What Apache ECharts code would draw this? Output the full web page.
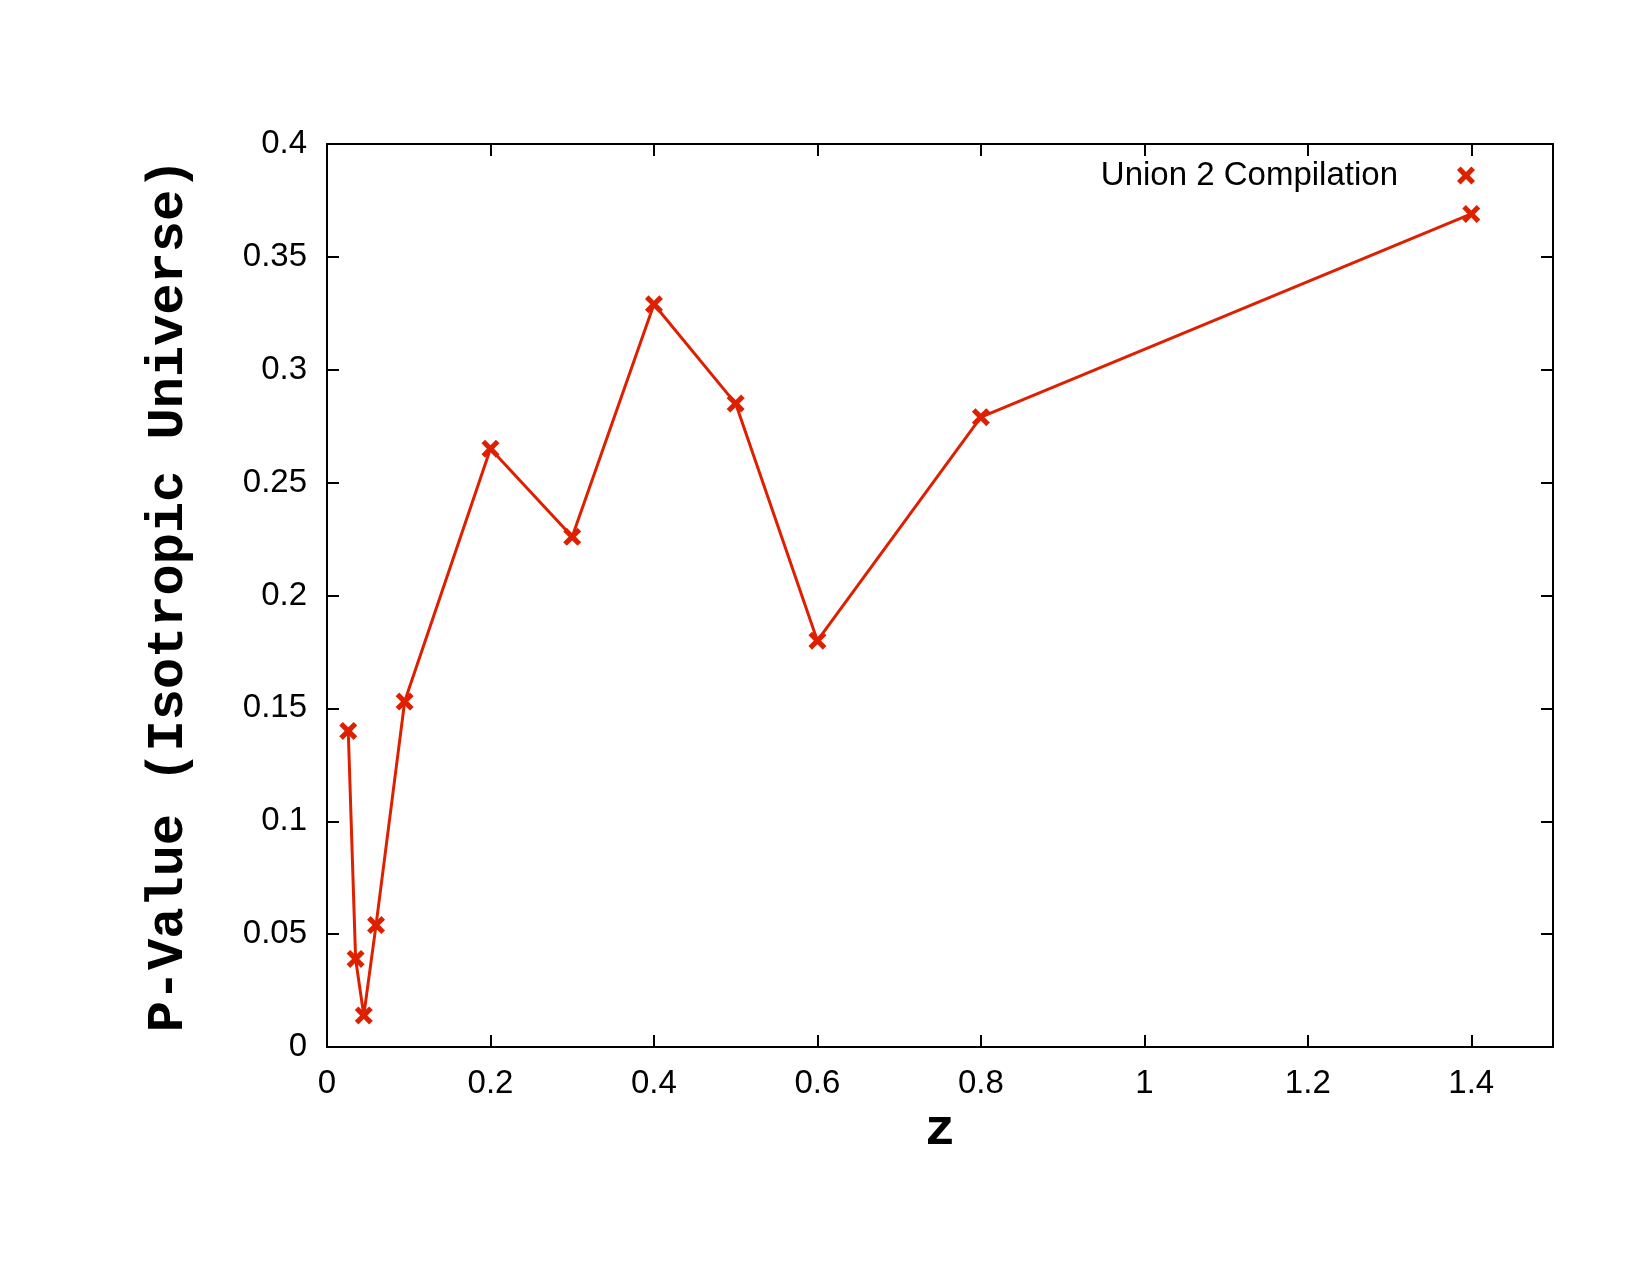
<!DOCTYPE html>
<html>
<head>
<meta charset="utf-8">
<script src="https://cdn.jsdelivr.net/npm/echarts@6/dist/echarts.min.js"></script>
<style>
html,body{margin:0;padding:0;background:#fff;}
#c{width:1651px;height:1275px;}
</style>
</head>
<body>
<div id="c"></div>
<script>
// Data
const zValues = [0.026, 0.035, 0.045, 0.060, 0.095, 0.200, 0.300, 0.400, 0.500, 0.600, 0.800, 1.400];
const pValues = [0.140, 0.039, 0.014, 0.054, 0.153, 0.265, 0.226, 0.329, 0.285, 0.180, 0.279, 0.369];
const seriesName = 'Union 2 Compilation';
const xTitle = 'z';
const yTitle = 'P-Value (Isotropic Universe)';

const RED = '#de2000';
const CROSS = 'path://M0,4 L4,0 L10,6 L16,0 L20,4 L14,10 L20,16 L16,20 L10,14 L4,20 L0,16 L6,10 Z';
const labelFont = {fontFamily: '"Liberation Sans", Arial, Helvetica, sans-serif', fontSize: 33, color: '#000'};
const titleFont = {fontFamily: '"Liberation Mono", "Courier New", monospace', fontWeight: 'bold', fontSize: 52, color: '#000'};

const chart = echarts.init(document.getElementById('c'), null, {renderer: 'canvas'});
const data = zValues.map((z, i) => [z, pValues[i]]);

const xFmt = v => (Math.abs(v * 5 - Math.round(v * 5)) < 1e-6 ? String(+v.toFixed(1)) : '');
const yFmt = v => (Math.abs(v * 20 - Math.round(v * 20)) < 1e-6 ? String(+v.toFixed(2)) : '');

const axisLine = {show: true, onZero: false, lineStyle: {color: '#000', width: 2}};
const axisTick = {show: true, inside: true, length: 12, lineStyle: {color: '#000', width: 2}};

chart.setOption({
  animation: false,
  backgroundColor: '#fff',
  grid: {left: 327, right: 98, top: 144, bottom: 228, containLabel: false},
  legend: {
    show: true,
    right: 171,
    top: 154,
    align: 'right',
    itemWidth: 18,
    itemHeight: 18,
    icon: CROSS,
    textStyle: Object.assign({}, labelFont, {padding: [0, 54, 0, 0]}),
    data: [{name: seriesName, icon: CROSS}]
  },
  xAxis: [{
    type: 'value', min: 0, max: 1.5, interval: 0.2, position: 'bottom',
    name: xTitle, nameLocation: 'middle', nameGap: 57,
    nameTextStyle: titleFont,
    axisLine, axisTick,
    axisLabel: Object.assign({}, labelFont, {margin: 20, formatter: xFmt, showMaxLabel: false}),
    splitLine: {show: false}
  }, {
    type: 'value', min: 0, max: 1.5, interval: 0.2, position: 'top',
    axisLine, axisTick, axisLabel: {show: false}, splitLine: {show: false}
  }],
  yAxis: [{
    type: 'value', min: 0, max: 0.4, interval: 0.05, position: 'left',
    name: yTitle, nameLocation: 'middle', nameGap: 132, nameRotate: 90,
    nameTextStyle: titleFont,
    axisLine, axisTick,
    axisLabel: Object.assign({}, labelFont, {margin: 20, formatter: yFmt}),
    splitLine: {show: false}
  }, {
    type: 'value', min: 0, max: 0.4, interval: 0.05, position: 'right',
    axisLine, axisTick, axisLabel: {show: false}, splitLine: {show: false}
  }],
  series: [{
    name: seriesName,
    type: 'line',
    data: data,
    xAxisIndex: 0, yAxisIndex: 0,
    symbol: CROSS,
    symbolSize: 18,
    showAllSymbol: true,
    itemStyle: {color: RED},
    lineStyle: {color: RED, width: 3},
    emphasis: {disabled: true}
  }]
});
</script>
</body>
</html>
